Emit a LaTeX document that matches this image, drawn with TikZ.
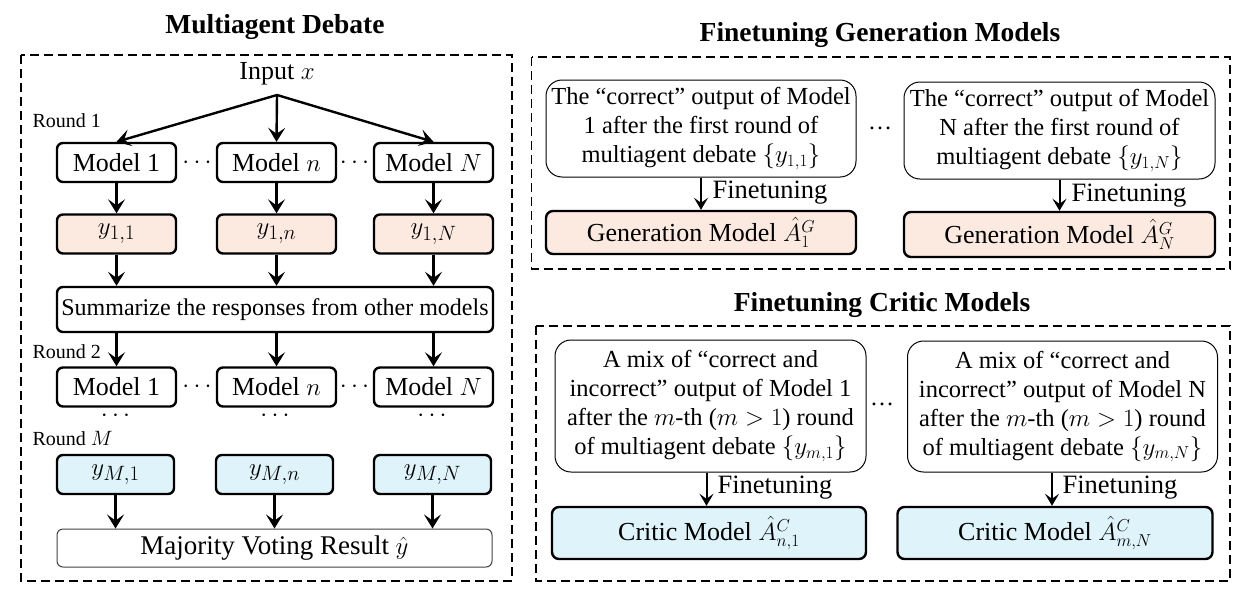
\documentclass[tikz,border=0pt]{standalone}
\usepackage{fontspec}
\setmainfont{Liberation Serif}
\usetikzlibrary{arrows.meta}
\definecolor{peach}{RGB}{252,234,225}
\definecolor{lcyan}{RGB}{222,244,250}
\newcommand\fsz[2]{\fontsize{#1}{#2}\selectfont}
\begin{document}
\begin{tikzpicture}[x=1pt,y=-1pt,
  mbox/.style={draw, line width=2.4pt, rounded corners=6pt, minimum width=119pt, minimum height=39pt, inner sep=0pt, font=\fsz{26}{30}},
  ybox/.style={mbox, fill=peach, font=\fsz{29}{30}},
  zbox/.style={mbox, fill=lcyan, font=\fsz{29}{30}},
  arr/.style={-{Stealth[length=14pt,width=17pt,inset=6pt]}, line width=2.4pt},
  arrs/.style={-{Stealth[length=12pt,width=14pt,inset=5pt]}, line width=2pt},
  frame/.style={line width=1.6pt, dash pattern=on 9pt off 5pt},
  rlab/.style={anchor=west, font=\fsz{20}{24}},
  tbox/.style={draw, line width=1pt, rounded corners=16pt, align=center, inner sep=0pt, font=\fsz{24.5}{29}},
  gbox/.style={draw, line width=2.4pt, rounded corners=7pt, inner sep=0pt, font=\fsz{26}{30}},
  flab/.style={anchor=west, font=\fsz{26.5}{30}},
  ttl/.style={font=\bfseries\fsz{27.5}{30}}
]
\useasboundingbox (0,0) rectangle (1244,600);

% ---------------- Left panel ----------------
\node[ttl] (t1) at (275,27) {Multiagent Debate};
\draw[frame] (21,55) rectangle (512,581);

\node[font=\fsz{26}{30}] (inp) at (277,74) {Input $x$};
\coordinate (sp) at (277,95);

\node[rlab] (r1) at (29,121) {Round 1};
\node[mbox] (m11) at (116.5,162.5) {Model 1};
\node[mbox] (m1n) at (276.5,162.5) {Model $n$};
\node[mbox] (m1N) at (433.5,162.5) {Model $N$};
\node[font=\fsz{26}{30}] (d11) at (197,162.5) {$\cdots$};
\node[font=\fsz{26}{30}] (d12) at (354.5,162.5) {$\cdots$};

\draw[arr] (sp) -- (m11.north);
\draw[arr] (sp) -- (m1n.north);
\draw[arr] (sp) -- (m1N.north);

\node[ybox] (y11) at (116.5,234) {$y_{1,1}$};
\node[ybox] (y1n) at (276.5,234) {$y_{1,n}$};
\node[ybox] (y1N) at (433.5,234) {$y_{1,N}$};
\draw[arr] (m11) -- (y11);
\draw[arr] (m1n) -- (y1n);
\draw[arr] (m1N) -- (y1N);

\node[mbox, minimum width=436pt, minimum height=45pt, font=\fsz{24}{28}] (sum) at (275,309.5) {Summarize the responses from other models};
\draw[arr] (y11) -- (y11 |- sum.north);
\draw[arr] (y1n) -- (y1n |- sum.north);
\draw[arr] (y1N) -- (y1N |- sum.north);

\node[rlab] (r2) at (29,352) {Round 2};
\node[mbox] (m21) at (116.5,387) {Model 1};
\node[mbox] (m2n) at (276.5,387) {Model $n$};
\node[mbox] (m2N) at (433.5,387) {Model $N$};
\node[font=\fsz{26}{30}] (d21) at (197,387) {$\cdots$};
\node[font=\fsz{26}{30}] (d22) at (354.5,387) {$\cdots$};
\draw[arr] (m21 |- sum.south) -- (m21);
\draw[arr] (m2n |- sum.south) -- (m2n);
\draw[arr] (m2N |- sum.south) -- (m2N);

\node[font=\fsz{26}{30}] (v1) at (115.5,416) {$\cdots$};
\node[font=\fsz{26}{30}] (v2) at (275,416) {$\cdots$};
\node[font=\fsz{26}{30}] (v3) at (432,416) {$\cdots$};

\node[rlab] (rM) at (29,439) {Round $M$};
\node[zbox, minimum width=117pt] (yM1) at (115.5,474.5) {$y_{M,1}$};
\node[zbox, minimum width=117pt] (yMn) at (274.5,474.5) {$y_{M,n}$};
\node[zbox, minimum width=117pt] (yMN) at (432.5,474.5) {$y_{M,N}$};

\node[draw=black!75, line width=1pt, rounded corners=6pt, minimum width=435pt, minimum height=38pt, inner sep=0pt, font=\fsz{27}{30}] (maj) at (274.5,548) {Majority Voting Result $\hat{y}$};
\draw[arr] (yM1) -- (yM1 |- maj.north);
\draw[arr] (yMn) -- (yMn |- maj.north);
\draw[arr] (yMN) -- (yMN |- maj.north);

% ---------------- Right top ----------------
\node[ttl] (t2) at (880,35) {Finetuning Generation Models};
\draw[frame] (531.5,57) rectangle (1230,269);

\node[tbox, minimum width=310pt, minimum height=97pt] (tb1) at (701,128.5)
  {The “correct” output of Model\\ 1 after the first round of\\ multiagent debate $\{y_{1,1}\}$};
\node[tbox, minimum width=311pt, minimum height=97pt] (tb2) at (1059.5,130.5)
  {The “correct” output of Model\\ N after the first round of\\ multiagent debate $\{y_{1,N}\}$};
\node[font=\fsz{24}{28}] (gd) at (880,128) {\ldots};

\node[gbox, fill=peach, minimum width=310pt, minimum height=43pt] (g1) at (701,232.5) {Generation Model $\hat{A}^{G}_{1}$};
\node[gbox, fill=peach, minimum width=311pt, minimum height=45pt] (g2) at (1059.5,234.5) {Generation Model $\hat{A}^{G}_{N}$};
\draw[arrs] (tb1) -- (g1);
\draw[arrs] (tb2) -- (g2);
\node[flab] (f1) at (709,193) {Finetuning};
\node[flab] (f2) at (1068,196) {Finetuning};

% ---------------- Right bottom ----------------
\node[ttl] (t3) at (882,305) {Finetuning Critic Models};
\draw[frame] (536,326) rectangle (1230,581);

\node[tbox, minimum width=311pt, minimum height=132pt] (cb1) at (710.5,406)
  {A mix of “correct and\\ incorrect” output of Model 1\\ after the $m$-th ($m>1$) round\\ of multiagent debate $\{y_{m,1}\}$};
\node[tbox, minimum width=310pt, minimum height=131pt] (cb2) at (1062.5,406.5)
  {A mix of “correct and\\ incorrect” output of Model N\\ after the $m$-th ($m>1$) round\\ of multiagent debate $\{y_{m,N}\}$};
\node[font=\fsz{24}{28}] (cd) at (882,404) {\ldots};

\node[gbox, fill=lcyan, minimum width=314pt, minimum height=52pt] (c1) at (709,533) {Critic Model $\hat{A}^{C}_{n,1}$};
\node[gbox, fill=lcyan, minimum width=315pt, minimum height=52pt] (c2) at (1055,533) {Critic Model $\hat{A}^{C}_{m,N}$};
\coordinate (a1) at (706.5,0);
\coordinate (a2) at (1052,0);
\draw[arrs] (a1 |- cb1.south) -- (a1 |- c1.north);
\draw[arrs] (a2 |- cb2.south) -- (a2 |- c2.north);
\node[flab] (f3) at (714,488) {Finetuning};
\node[flab] (f4) at (1059,488) {Finetuning};
\end{tikzpicture}
\end{document}
